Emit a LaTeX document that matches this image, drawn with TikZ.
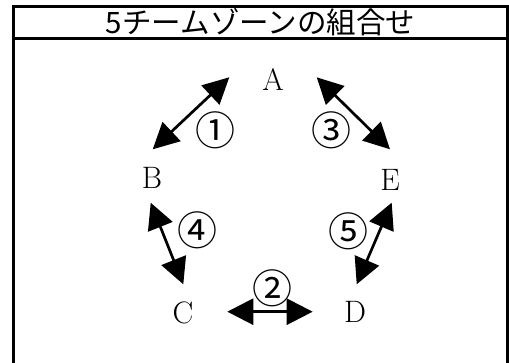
\documentclass[tikz,border=0pt]{standalone}
\usepackage{fontspec}
\newfontfamily\jpfont{Noto Sans CJK JP}
\usetikzlibrary{arrows.meta}
\tikzstyle{team}=[font=\fontsize{31}{36}\selectfont, inner sep=0pt]
\tikzstyle{pairno}=[team, font=\jpfont\fontsize{40}{44}\selectfont]
\tikzstyle{titel}=[team, font=\jpfont\fontsize{29.5}{34}\selectfont]
\tikzstyle{line}=[draw, line width=2.7pt,
  {Triangle[length=26pt,width=26pt]}-{Triangle[length=26pt,width=26pt]}]
\tikzstyle{rahmen}=[draw, line width=3pt]

\begin{document}
\begin{tikzpicture}[x=1pt,y=-1pt]
  \useasboundingbox (0,0) rectangle (509,362);

  % frame and title
  \path [rahmen] (13.5,372) -- (13.5,6.3) -- (507.5,6.3) -- (507.5,372);
  \path [rahmen] (13.5,38.5) -- (507.5,38.5);
  \path (260.5,22.5) node (kopf) [titel] {5チームゾーンの組合せ};

  % teams
  \path (273,80) node (a) [team] {A};
  \path (a)+(-121,98) node (b) [team] {B};
  \path (a)+(117,100) node (e) [team] {E};
  \path (b)+(31,135) node (c) [team] {C};
  \path (e)+(-35,132) node (d) [team] {D};

  % arrow ends
  \coordinate (ab) at (229.3,77.3);
  \coordinate (ba) at (152.7,149.3);
  \coordinate (ae) at (316.7,77.3);
  \coordinate (ea) at (390,149.3);
  \coordinate (bc) at (150.7,202.7);
  \coordinate (cb) at (183.3,284.3);
  \coordinate (ed) at (391.7,202.7);
  \coordinate (de) at (356.7,284.3);
  \coordinate (cd) at (227.3,311.7);
  \coordinate (dc) at (312.7,311.7);

  \path [line] (ba) -- (ab);
  \path [line] (ae) -- (ea);
  \path [line] (bc) -- (cb);
  \path [line] (ed) -- (de);
  \path [line] (cd) -- (dc);

  % pair numbers
  \path (215,130) node (n1) [pairno] {①};
  \path (272.7,288.3) node (n2) [pairno] {②};
  \path (331.7,130) node (n3) [pairno] {③};
  \path (197.7,230) node (n4) [pairno] {④};
  \path (348.3,231.7) node (n5) [pairno] {⑤};
\end{tikzpicture}
\end{document}
